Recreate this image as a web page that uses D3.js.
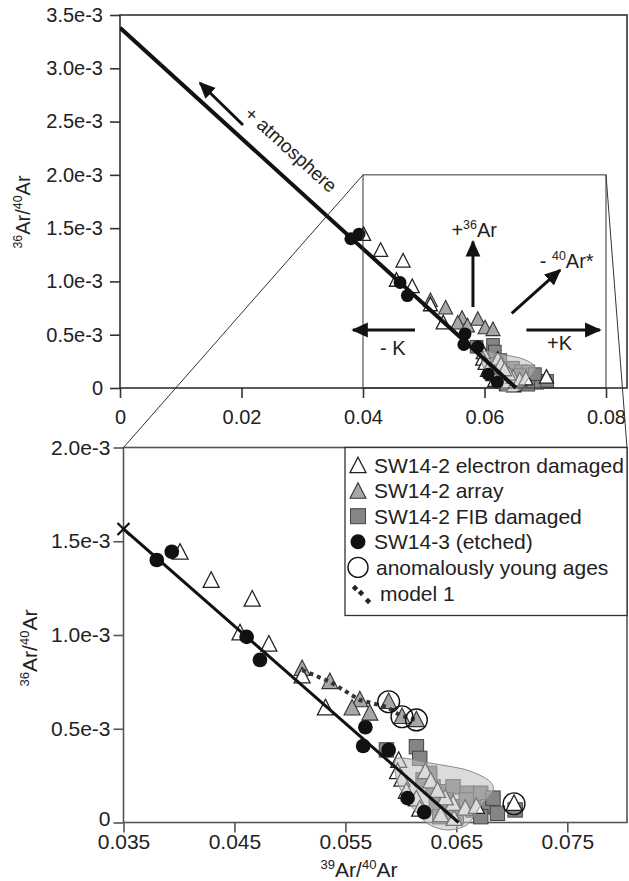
<!DOCTYPE html>
<html><head><meta charset="utf-8">
<script src="https://cdn.jsdelivr.net/npm/d3@7"></script>
<style>
body{margin:0;background:#fff}
svg{display:block}
text{font-family:"Liberation Sans",Arial,Helvetica,sans-serif;fill:#222}
</style>
</head><body><svg id="c" width="629" height="881"></svg>
<script>
// ---------------- data ----------------
const topXTicks = [0, 0.02, 0.04, 0.06, 0.08];
const topXLabels = ["0", "0.02", "0.04", "0.06", "0.08"];
const topYTicks = [0, 0.5e-3, 1.0e-3, 1.5e-3, 2.0e-3, 2.5e-3, 3.0e-3, 3.5e-3];
const topYLabels = ["0", "0.5e-3", "1.0e-3", "1.5e-3", "2.0e-3", "2.5e-3", "3.0e-3", "3.5e-3"];
const botXTicks = [0.035, 0.045, 0.055, 0.065, 0.075];
const botXLabels = ["0.035", "0.045", "0.055", "0.065", "0.075"];
const botYTicks = [0, 0.5e-3, 1.0e-3, 1.5e-3, 2.0e-3];
const botYLabels = ["0", "0.5e-3", "1.0e-3", "1.5e-3", "2.0e-3"];

// isochron (atmospheric intercept to 39Ar/40Ar intercept)
const isoX = [0, 0.0652];
const isoY = [3.38e-3, 0];

// SW14-2 electron damaged (open triangles)
const elecX = [0.0401, 0.0429, 0.0466, 0.0455, 0.0481, 0.0511, 0.0532, 0.0598, 0.0597, 0.0601, 0.0605, 0.0614, 0.0622, 0.0627, 0.0636, 0.0648, 0.0647, 0.0658, 0.0668, 0.0702, 0.0617, 0.0640, 0.0633];
const elecY = [1.44e-3, 1.29e-3, 1.19e-3, 1.01e-3, 0.95e-3, 0.78e-3, 0.61e-3, 0.33e-3, 0.27e-3, 0.23e-3, 0.165e-3, 0.125e-3, 0.27e-3, 0.22e-3, 0.04e-3, 0.02e-3, 0.10e-3, 0.075e-3, 0.085e-3, 0.10e-3, 0.07e-3, 0.13e-3, 0.17e-3];
// SW14-2 array (grey triangles)
const arrX = [0.0511, 0.0536, 0.0563, 0.0556, 0.0572, 0.0589, 0.0601, 0.0614];
const arrY = [0.82e-3, 0.75e-3, 0.653e-3, 0.609e-3, 0.582e-3, 0.644e-3, 0.564e-3, 0.547e-3];
// SW14-2 FIB damaged (grey squares)
const fibX = [0.0587, 0.0614, 0.0617, 0.0629, 0.0638, 0.0647, 0.0660, 0.0672, 0.0632, 0.0641, 0.0653, 0.0665, 0.0678, 0.0687, 0.0703, 0.0635, 0.0650, 0.0672, 0.0626, 0.0620, 0.0659, 0.0683];
const fibY = [0.387e-3, 0.404e-3, 0.342e-3, 0.19e-3, 0.164e-3, 0.19e-3, 0.156e-3, 0.156e-3, 0.102e-3, 0.12e-3, 0.084e-3, 0.067e-3, 0.084e-3, 0.049e-3, 0.067e-3, 0.031e-3, 0.031e-3, 0.031e-3, 0.262e-3, 0.227e-3, 0.12e-3, 0.13e-3];
// SW14-3 etched (black circles)
const etchX = [0.0380, 0.03935, 0.0461, 0.0473, 0.0568, 0.0566, 0.0589, 0.0606, 0.0621];
const etchY = [1.40e-3, 1.444e-3, 0.99e-3, 0.867e-3, 0.508e-3, 0.408e-3, 0.387e-3, 0.13e-3, 0.055e-3];
// anomalously young ages (open circles)
const anomX = [0.0589, 0.0601, 0.0614, 0.0702];
const anomY = [0.644e-3, 0.564e-3, 0.547e-3, 0.10e-3];
// model 1 (dotted)
const modelX = [0.0511, 0.0536, 0.0563, 0.0587, 0.0599, 0.0614];
const modelY = [0.813e-3, 0.751e-3, 0.653e-3, 0.617e-3, 0.573e-3, 0.547e-3];
// shaded field
const blobX = [0.05963, 0.06264, 0.06595, 0.06787, 0.06832, 0.06715, 0.06595, 0.06414, 0.06234, 0.06054, 0.05963];
const blobY = [0.342e-3, 0.317e-3, 0.28e-3, 0.227e-3, 0.173e-3, 0.084e-3, -0.013e-3, -0.04e-3, -0.003e-3, 0.12e-3, 0.227e-3];
// zoom window shown in top panel
const zoomX = [0.04, 0.08];
const zoomY = [0, 2.0e-3];

// legend
const legendLabels = ["SW14-2 electron damaged", "SW14-2 array", "SW14-2 FIB damaged", "SW14-3 (etched)", "anomalously young ages", "model 1"];

// ---------------- layout ----------------
const svg = d3.select("#c");
const T = {l: 120, r: 627, t: 15, b: 388};
const B = {l: 123.5, r: 627, t: 447.5, b: 822.5};
const xT = d3.scaleLinear([0, 0.08], [120, 606]);
const yT = d3.scaleLinear([0, 3.5e-3], [388, 15]);
const xB = d3.scaleLinear([0.035, 0.075], [123.5, 567.3]);
const yB = d3.scaleLinear([0, 2.0e-3], [822.5, 447.5]);

const defs = svg.append("defs");
defs.append("clipPath").attr("id", "clipT").append("rect").attr("x", T.l).attr("y", T.t).attr("width", T.r - T.l).attr("height", T.b - T.t + 6);
defs.append("clipPath").attr("id", "clipB").append("rect").attr("x", B.l).attr("y", B.t).attr("width", B.r - B.l).attr("height", B.b - B.t + 10);
const mk = defs.append("marker").attr("id", "ah").attr("viewBox", "0 0 10 10").attr("refX", 9).attr("refY", 5)
  .attr("markerWidth", 5.5).attr("markerHeight", 5.5).attr("orient", "auto").attr("markerUnits", "strokeWidth");
mk.append("path").attr("d", "M0,0.5 L10,5 L0,9.5 Z").attr("fill", "#111");

function triPath(cx, cy, s) {
  return `M${cx},${cy - s * 0.55}L${cx + s / 2},${cy + s * 0.42}L${cx - s / 2},${cy + s * 0.42}Z`;
}

function drawPanel(g, x, y, P, opts) {
  const s = opts.sym;
  const ax = g.append("g").attr("transform", `translate(0,${P.b})`)
    .call(d3.axisBottom(x).tickValues(opts.xTicks).tickFormat((d, i) => opts.xLabels[i]).tickSize(10).tickPadding(opts.xPad));
  const ay = g.append("g").attr("transform", `translate(${P.l},0)`)
    .call(d3.axisLeft(y).tickValues(opts.yTicks).tickFormat((d, i) => opts.yLabels[i]).tickSize(10).tickPadding(opts.yPad));
  [ax, ay].forEach(a => {
    a.select(".domain").remove();
    a.selectAll("line").attr("stroke", opts.axisColor).attr("stroke-width", 1.6);
    a.selectAll("text").style("font-size", opts.fs + "px").attr("fill", "#222");
  });
  if (opts.nudgeZero) ay.selectAll(".tick text").filter(d => d === 0).attr("dy", "0.12em");
  g.append("rect").attr("x", P.l).attr("y", P.t).attr("width", P.r - P.l).attr("height", P.b - P.t)
    .attr("fill", "none").attr("stroke", opts.axisColor).attr("stroke-width", 1.6);

  const pg = g.append("g").attr("clip-path", `url(#${opts.clip})`);
  const x0 = Math.max(isoX[0], x.domain()[0]);
  const slope = (isoY[1] - isoY[0]) / (isoX[1] - isoX[0]);
  const y0 = isoY[0] + slope * (x0 - isoX[0]);
  pg.selectAll(".sq").data(d3.range(fibX.length)).join("rect")
    .attr("x", i => x(fibX[i]) - s * 0.45).attr("y", i => y(fibY[i]) - s * 0.45)
    .attr("width", s * 0.9).attr("height", s * 0.9)
    .attr("fill", "#858585").attr("stroke", "#444").attr("stroke-width", 1);
  pg.selectAll(".ga").data(d3.range(arrX.length)).join("path")
    .attr("d", i => triPath(x(arrX[i]), y(arrY[i]), s))
    .attr("fill", "#a6a6a6").attr("stroke", "#333").attr("stroke-width", 1.1);
  pg.selectAll(".wt").data(d3.range(elecX.length)).join("path")
    .attr("d", i => triPath(x(elecX[i]), y(elecY[i]), s))
    .attr("fill", "#fff").attr("stroke", "#222").attr("stroke-width", 1.3);
  pg.append("path")
    .attr("d", d3.line().x(i => x(blobX[i])).y(i => y(blobY[i])).curve(d3.curveCardinalClosed.tension(0.2))(d3.range(blobX.length)))
    .attr("fill", "#bdbdbd").attr("fill-opacity", 0.55).attr("stroke", "#888").attr("stroke-width", 1);
  pg.selectAll(".bc").data(d3.range(etchX.length)).join("circle")
    .attr("cx", i => x(etchX[i])).attr("cy", i => y(etchY[i])).attr("r", s * 0.46)
    .attr("fill", "#111");
  pg.append("line").attr("x1", x(x0)).attr("y1", y(y0)).attr("x2", x(isoX[1])).attr("y2", y(isoY[1]))
    .attr("stroke", "#111").attr("stroke-width", opts.lw);
  if (opts.model) {
    pg.append("path")
      .attr("d", d3.line().x(i => x(modelX[i])).y(i => y(modelY[i]))(d3.range(modelX.length)))
      .attr("fill", "none").attr("stroke", "#333").attr("stroke-width", 4).attr("stroke-dasharray", "4,4");
    const cx = x(x0), cy = y(y0);
    g.append("path").attr("d", `M${cx - 6},${cy - 6}L${cx + 6},${cy + 6}M${cx - 6},${cy + 6}L${cx + 6},${cy - 6}`)
      .attr("stroke", "#111").attr("stroke-width", 2.2);
    pg.selectAll(".ay").data(d3.range(anomX.length)).join("circle")
      .attr("cx", i => x(anomX[i])).attr("cy", i => y(anomY[i])).attr("r", s * 0.68)
      .attr("fill", "none").attr("stroke", "#111").attr("stroke-width", 1.4);
  }
}

const gT = svg.append("g");
drawPanel(gT, xT, yT, T, {xTicks: topXTicks, xLabels: topXLabels, yTicks: topYTicks, yLabels: topYLabels,
  fs: 20, xPad: 12, yPad: 7, axisColor: "#333", clip: "clipT", sym: 14, lw: 4, model: false});
const gB = svg.append("g");
drawPanel(gB, xB, yB, B, {xTicks: botXTicks, xLabels: botXLabels, yTicks: botYTicks, yLabels: botYLabels,
  fs: 21, xPad: 2, yPad: 3, axisColor: "#555", clip: "clipB", sym: 16, lw: 3, model: true, nudgeZero: true});

// zoom rectangle & connectors
svg.append("rect").attr("x", xT(zoomX[0])).attr("y", yT(zoomY[1]))
  .attr("width", xT(zoomX[1]) - xT(zoomX[0])).attr("height", yT(zoomY[0]) - yT(zoomY[1]))
  .attr("fill", "none").attr("stroke", "#333").attr("stroke-width", 1);
svg.append("line").attr("x1", xT(zoomX[0])).attr("y1", yT(zoomY[1])).attr("x2", B.l).attr("y2", B.t)
  .attr("stroke", "#333").attr("stroke-width", 1);
svg.append("line").attr("x1", xT(zoomX[1])).attr("y1", yT(zoomY[1])).attr("x2", B.r).attr("y2", B.t)
  .attr("stroke", "#333").attr("stroke-width", 1);

// annotations in top panel
const arrows = [
  {x1: 0.02025, y1: 2.468e-3, x2: 0.01317, y2: 2.862e-3},
  {x1: 0.0581, y1: 0.76e-3, x2: 0.0581, y2: 1.373e-3},
  {x1: 0.06448, y1: 0.701e-3, x2: 0.07243, y2: 1.107e-3},
  {x1: 0.04856, y1: 0.544e-3, x2: 0.03835, y2: 0.544e-3},
  {x1: 0.0669, y1: 0.544e-3, x2: 0.0790, y2: 0.544e-3}
];
svg.selectAll(".arr").data(arrows).join("line")
  .attr("x1", d => xT(d.x1)).attr("y1", d => yT(d.y1)).attr("x2", d => xT(d.x2)).attr("y2", d => yT(d.y2))
  .attr("stroke", "#111").attr("stroke-width", 3).attr("marker-end", "url(#ah)");

const ang = Math.atan2(yT(isoY[1]) - yT(isoY[0]), xT(isoX[1]) - xT(isoX[0])) * 180 / Math.PI;
svg.append("text").attr("transform", `translate(${xT(0.0203)},${yT(2.56e-3)}) rotate(${ang})`)
  .style("font-size", "19px").text("+ atmosphere");

function supText(g, x, y, parts, fs, anchor) {
  const t = g.append("text").attr("x", x).attr("y", y).attr("text-anchor", anchor || "start").style("font-size", fs + "px");
  parts.forEach(p => {
    if (p[1]) t.append("tspan").attr("dy", -fs * 0.38).style("font-size", (fs * 0.62) + "px").text(p[0]);
    else t.append("tspan").attr("dy", p[2] ? fs * 0.38 : 0).text(p[0]);
  });
  return t;
}
supText(svg, xT(0.0583), yT(1.417e-3), [["+", 0], ["36", 1], ["Ar", 0, 1]], 20, "middle");
supText(svg, xT(0.0691), yT(1.126e-3), [["- ", 0], ["40", 1], ["Ar*", 0, 1]], 20, "start");
svg.append("text").attr("x", xT(0.0428)).attr("y", yT(0.31e-3)).style("font-size", "20px").text("- K");
svg.append("text").attr("x", xT(0.0703)).attr("y", yT(0.357e-3)).style("font-size", "20px").text("+K");

// axis titles
function yTitle(x, y, fs) {
  const t = svg.append("text").attr("transform", `translate(${x},${y}) rotate(-90)`).attr("text-anchor", "middle").style("font-size", fs + "px");
  t.append("tspan").attr("dy", -fs * 0.38).style("font-size", (fs * 0.62) + "px").text("36");
  t.append("tspan").attr("dy", fs * 0.38).text("Ar/");
  t.append("tspan").attr("dy", -fs * 0.38).style("font-size", (fs * 0.62) + "px").text("40");
  t.append("tspan").attr("dy", fs * 0.38).text("Ar");
}
yTitle(30, 212, 20);
yTitle(37, 648, 21);
{
  const fs = 21;
  const t = svg.append("text").attr("x", 359).attr("y", 877).attr("text-anchor", "middle").style("font-size", fs + "px");
  t.append("tspan").attr("dy", -fs * 0.38).style("font-size", (fs * 0.62) + "px").text("39");
  t.append("tspan").attr("dy", fs * 0.38).text("Ar/");
  t.append("tspan").attr("dy", -fs * 0.38).style("font-size", (fs * 0.62) + "px").text("40");
  t.append("tspan").attr("dy", fs * 0.38).text("Ar");
}

// legend
const L = {x: 345, y: 447.5, w: 282, h: 168};
const lg = svg.append("g");
lg.append("rect").attr("x", L.x).attr("y", L.y).attr("width", L.w).attr("height", L.h)
  .attr("fill", "#fff").attr("stroke", "#333").attr("stroke-width", 1.3);
const rowY = i => 465 + i * 25.6;
const sx = 358;
lg.append("path").attr("d", triPath(sx, rowY(0) + 1, 16)).attr("fill", "#fff").attr("stroke", "#222").attr("stroke-width", 1.3);
lg.append("path").attr("d", triPath(sx, rowY(1) + 1, 16)).attr("fill", "#a6a6a6").attr("stroke", "#333").attr("stroke-width", 1.1);
lg.append("rect").attr("x", sx - 7.5).attr("y", rowY(2) - 7.5).attr("width", 15).attr("height", 15).attr("fill", "#858585").attr("stroke", "#444");
lg.append("circle").attr("cx", sx).attr("cy", rowY(3)).attr("r", 7.5).attr("fill", "#111");
lg.append("circle").attr("cx", sx).attr("cy", rowY(4)).attr("r", 10).attr("fill", "none").attr("stroke", "#111").attr("stroke-width", 1.4);
[[-3, -5], [3, 0], [10, 8]].forEach(p => {
  lg.append("rect").attr("x", sx + p[0] - 2.3).attr("y", rowY(5) + p[1] - 2.3).attr("width", 4.6).attr("height", 4.6)
    .attr("transform", `rotate(45,${sx + p[0]},${rowY(5) + p[1]})`).attr("fill", "#222");
});
const lx = [374, 374, 374, 374, 376, 380];
lg.selectAll(".lt").data(legendLabels).join("text")
  .attr("x", (d, i) => lx[i]).attr("y", (d, i) => rowY(i) + 7.5).style("font-size", "21px").text(d => d);
</script></body></html>
